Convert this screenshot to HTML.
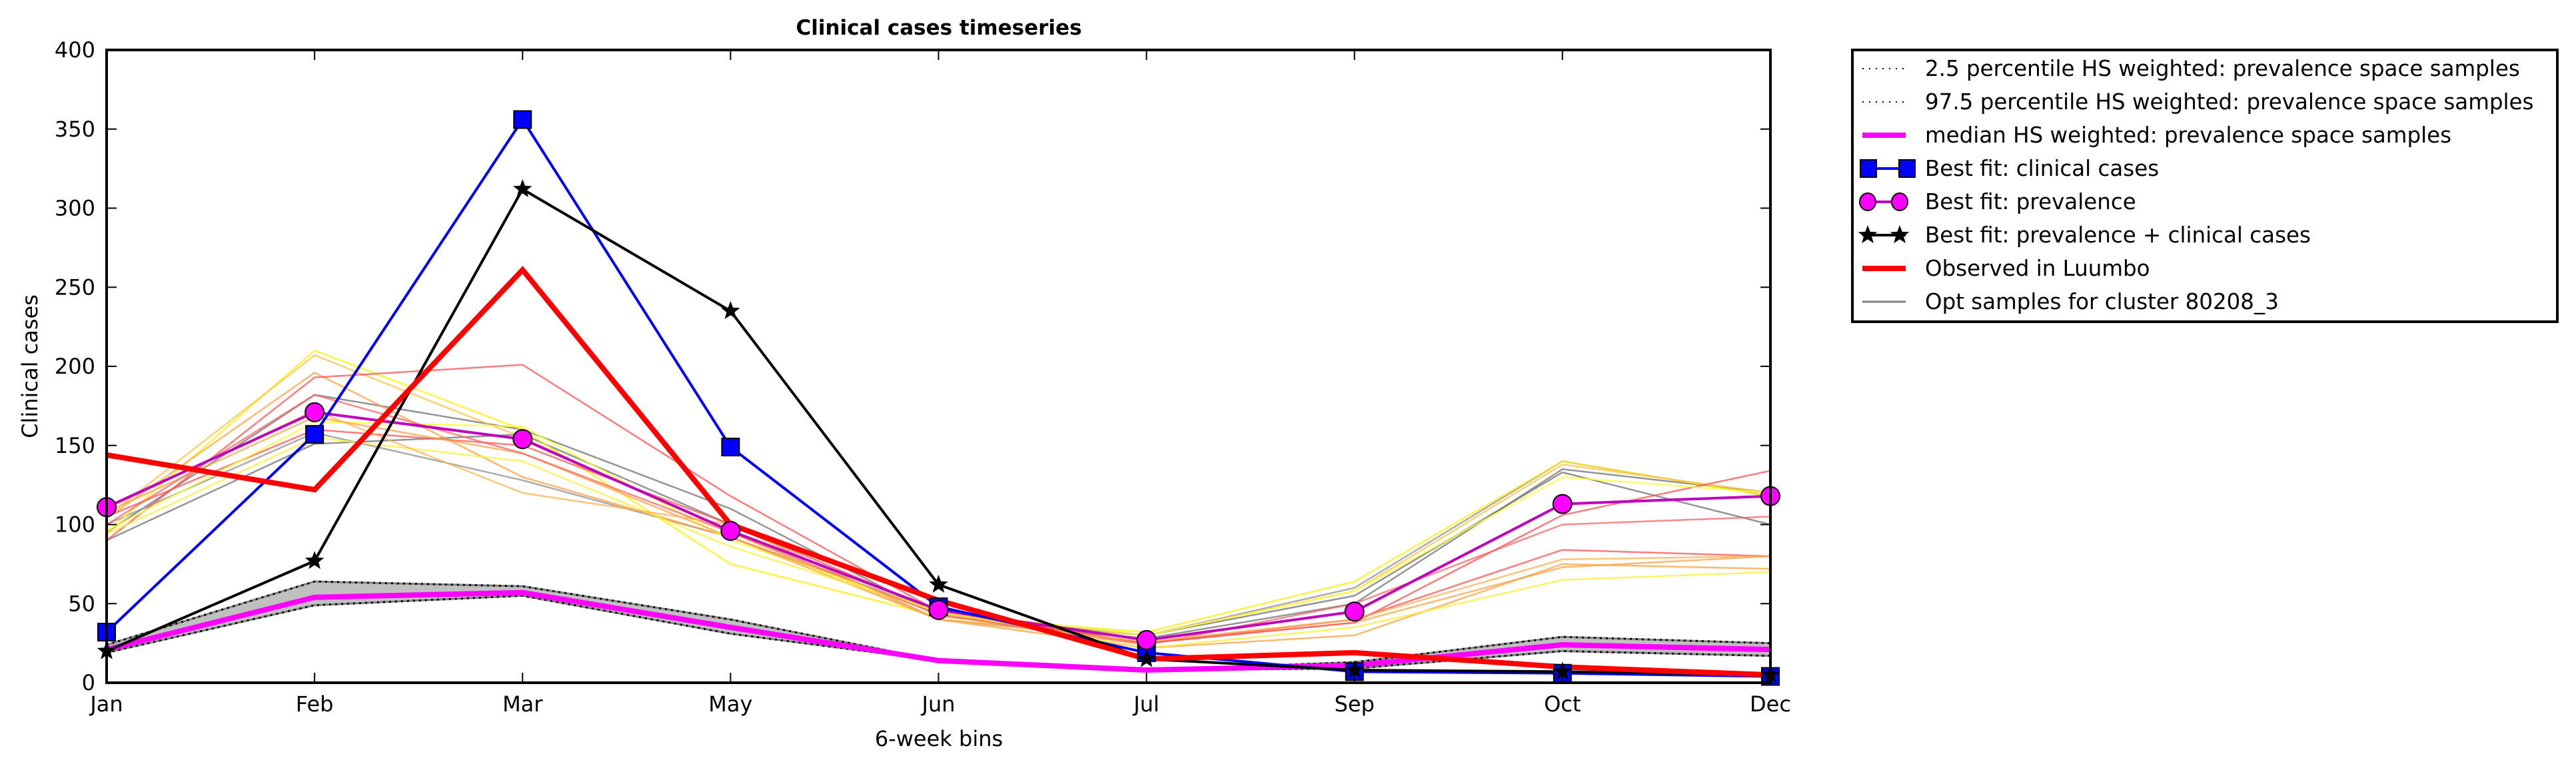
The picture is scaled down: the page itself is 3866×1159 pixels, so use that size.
<!DOCTYPE html>
<html><head><meta charset="utf-8"><style>
html,body{margin:0;padding:0;background:#fff;}
svg{display:block;font-family:"DejaVu Sans","Liberation Sans",sans-serif;}
</style></head><body>
<svg id="chart" width="3866" height="1159" viewBox="0 0 3866 1159">
<text x="1409" y="52" font-size="31" font-weight="bold" text-anchor="middle">Clinical cases timeseries</text>
<g id="plot"></g>
<text x="56" y="550" font-size="32" text-anchor="middle" transform="rotate(-90 56 550)">Clinical cases</text>
<text x="1409" y="1120" font-size="32" text-anchor="middle">6-week bins</text>
<g id="legend"></g>
</svg>
<script>
const categories = ["Jan","Feb","Mar","May","Jun","Jul","Sep","Oct","Dec"];
const yTicks = [0,50,100,150,200,250,300,350,400];
const bestClinical = [32,157,356,149,48,19,7,6,4];
const bestPrevClin = [20,77,312,235,62,15,8,7,5];
const bestPrev = [111,171,154,96,46,27,45,113,118];
const observed = [144,122,261,100,52,15,19,10,5];
const median = [21,54,57,35,14,8,11,24,21];
const p025 = [19,49,55,31,14,8,9,20,17];
const p975 = [24,64,61,40,14,8,13,29,25];
const sampleA = [95,182,160,110,42,30,55,133,100];
const sampleB = [90,151,157,100,40,28,50,135,120];
const sampleC = [100,158,128,92,45,30,60,140,118];
const sampleD = [95,210,160,75,42,32,64,140,118];
const sampleE = [105,207,155,95,40,30,58,138,120];
const sampleF = [104,196,130,92,44,25,38,73,80];
const sampleG = [90,193,201,118,45,25,40,84,80];
const sampleH = [105,160,150,100,45,25,38,106,134];
const sampleI = [96,165,162,90,45,30,58,130,120];
const sampleJ = [108,168,145,92,40,22,30,75,72];
const sampleK = [94,155,140,86,45,22,35,65,70];
const sampleL = [100,182,145,95,43,24,50,100,105];
const sampleM = [110,172,120,100,40,26,40,78,80];

const NS="http://www.w3.org/2000/svg";
const L=160,R=2657,T=75,B=1025;
const xS=i=>L+i*(R-L)/(categories.length-1);
const yS=v=>B-v*(B-T)/400;
const plot=document.getElementById('plot');
function mk(tag,attrs,parent){const e=document.createElementNS(NS,tag);for(const k in attrs)e.setAttribute(k,attrs[k]);(parent||plot).appendChild(e);return e;}
function pts(arr){return arr.map((v,i)=>xS(i)+","+yS(v)).join(" ");}
function line(arr,color,w,name,op,dash){const e=mk('polyline',{points:pts(arr),fill:'none',stroke:color,'stroke-width':w,'stroke-linejoin':'miter','stroke-opacity':op||1});if(dash)e.setAttribute('stroke-dasharray',dash);


return e;}

const band=mk('polygon',{points:pts(p975)+" "+p025.map((v,i)=>xS(i)+","+yS(v)).reverse().join(" "),fill:'#c0c0c0',stroke:'#808080','stroke-width':3});



const samples=[[sampleA,'#707070'],[sampleB,'#707070'],[sampleC,'#909090'],[sampleD,'#ffee00'],[sampleE,'#ffc040'],[sampleF,'#ffa040'],[sampleG,'#ff5050'],[sampleH,'#ff5050'],[sampleI,'#ffff30'],[sampleJ,'#ffa040'],[sampleK,'#ffee30'],[sampleL,'#ff6060'],[sampleM,'#ffb050']];
samples.forEach((s,k)=>line(s[0],s[1],2.5,'opt-sample-line-'+k,0.75));

line(p025,'#000',3,'p025-line',1,'3 6');
line(p975,'#000',3,'p975-line',1,'3 6');
line(median,'#ff00ff',8,'median-line');

line(bestPrev,'#bf00bf',4,'best-fit-prevalence-line');
line(bestClinical,'#0000ff',4,'best-fit-clinical-line');
line(bestPrevClin,'#000',4,'best-fit-prev-clinical-line');
line(observed,'#ff0000',8,'observed-line');

bestClinical.forEach((v,i)=>{const r=mk('rect',{x:xS(i)-13,y:yS(v)-13,width:26,height:26,fill:'#0000ff',stroke:'#000','stroke-width':2});

});
bestPrev.forEach((v,i)=>{const c=mk('circle',{cx:xS(i),cy:yS(v),r:14,fill:'#ff00ff',stroke:'#000','stroke-width':2});

});
function star(cx,cy,r,parent){let p=[];for(let k=0;k<10;k++){const a=-Math.PI/2+k*Math.PI/5;const rr=k%2?r*0.42:r;p.push((cx+rr*Math.cos(a)).toFixed(1)+","+(cy+rr*Math.sin(a)).toFixed(1));}return mk('polygon',{points:p.join(" "),fill:'#000'},parent);}
bestPrevClin.forEach((v,i)=>{const s=star(xS(i),yS(v),15);

});

const fr=mk('rect',{x:L,y:T,width:R-L,height:B-T,fill:'none',stroke:'#000','stroke-width':4});


categories.forEach((c,i)=>{const x=xS(i);
mk('line',{x1:x,y1:B,x2:x,y2:B-15,stroke:'#000','stroke-width':2});
mk('line',{x1:x,y1:T,x2:x,y2:T+15,stroke:'#000','stroke-width':2});
const t=mk('text',{x:x,y:1068,'font-size':32,'text-anchor':'middle'});t.textContent=c;

});
yTicks.forEach(v=>{const y=yS(v);
mk('line',{x1:L,y1:y,x2:L+15,y2:y,stroke:'#000','stroke-width':2});
mk('line',{x1:R,y1:y,x2:R-15,y2:y,stroke:'#000','stroke-width':2});
const t=mk('text',{x:143,y:y+11,'font-size':32,'text-anchor':'end'});t.textContent=v;

});

const lg=document.getElementById('legend');
mk('rect',{x:2780,y:75,width:1058,height:408,fill:'#fff',stroke:'#000','stroke-width':4},lg);
const items=[["2.5 percentile HS weighted: prevalence space samples","dot"],["97.5 percentile HS weighted: prevalence space samples","dot"],["median HS weighted: prevalence space samples","mag"],["Best fit: clinical cases","sq"],["Best fit: prevalence","ci"],["Best fit: prevalence + clinical cases","st"],["Observed in Luumbo","red"],["Opt samples for cluster 80208_3","gray"]];
items.forEach((it,k)=>{const y=103+k*50;const g=mk('g',{},lg);


const x1=2795,x2=2860;
if(it[1]=="dot")mk('line',{x1:x1,y1:y,x2:x2,y2:y,stroke:'#000','stroke-width':2,'stroke-dasharray':'2 8'},g);
if(it[1]=="mag")mk('line',{x1:x1,y1:y,x2:x2,y2:y,stroke:'#ff00ff','stroke-width':8},g);
if(it[1]=="red")mk('line',{x1:x1,y1:y,x2:x2,y2:y,stroke:'#ff0000','stroke-width':8},g);
if(it[1]=="gray")mk('line',{x1:x1,y1:y,x2:x2,y2:y,stroke:'#808080','stroke-width':3},g);
if(it[1]=="sq"){mk('line',{x1:x1,y1:y,x2:x2,y2:y,stroke:'#0000ff','stroke-width':4},g);[2792,2850].forEach(x=>mk('rect',{x:x,y:y-13,width:24,height:26,fill:'#0000ff',stroke:'#000','stroke-width':2},g));}
if(it[1]=="ci"){mk('line',{x1:x1,y1:y,x2:x2,y2:y,stroke:'#bf00bf','stroke-width':4},g);[2803,2851].forEach(x=>mk('ellipse',{cx:x,cy:y,rx:12,ry:13,fill:'#ff00ff',stroke:'#000','stroke-width':2},g));}
if(it[1]=="st"){mk('line',{x1:x1,y1:y,x2:x2,y2:y,stroke:'#000','stroke-width':4},g);star(2803,y,15,g);star(2851,y,15,g);}
const t=mk('text',{x:2889,y:y+11,'font-size':32.5},g);t.textContent=it[0];});
</script>
</body></html>
